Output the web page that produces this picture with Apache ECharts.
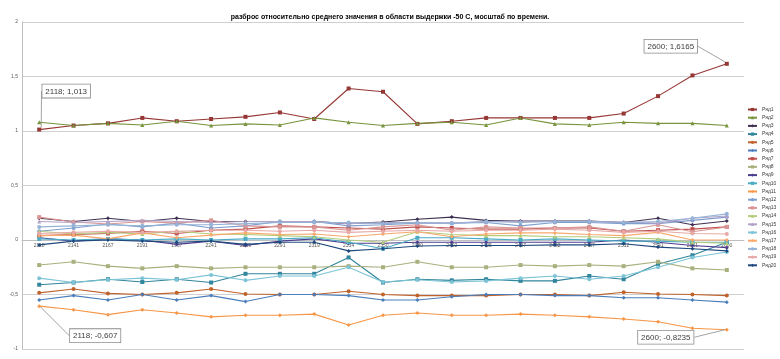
<!DOCTYPE html>
<html>
<head>
<meta charset="utf-8">
<script src="https://cdn.jsdelivr.net/npm/echarts@6/dist/echarts.min.js"></script>
<style>
html,body{margin:0;padding:0;background:#fff;}
#chart{width:780px;height:359px;}
</style>
</head>
<body>
<div id="chart"></div>
<script>
const categories = ['2118','2141','2167','2191','1967','2241','2269','2291','2319','2334','2350','2380','2402','2425','2437','2462','2487','2512','2541','2561','2600'];
const yTicks = [-1, -0.5, 0, 0.5, 1, 1.5, 2];

const r1  = [1.013, 1.05, 1.07, 1.12, 1.09, 1.11, 1.13, 1.17, 1.11, 1.39, 1.36, 1.065, 1.09, 1.12, 1.12, 1.12, 1.12, 1.16, 1.32, 1.51, 1.6165];
const r2  = [1.08, 1.05, 1.07, 1.055, 1.09, 1.05, 1.065, 1.055, 1.12, 1.08, 1.05, 1.07, 1.08, 1.055, 1.12, 1.065, 1.055, 1.08, 1.07, 1.07, 1.05];
const r3  = [0.2, 0.17, 0.2, 0.17, 0.2, 0.17, 0.17, 0.17, 0.17, 0.15, 0.165, 0.19, 0.21, 0.18, 0.175, 0.175, 0.175, 0.16, 0.2, 0.14, 0.175];
const r4  = [-0.41, -0.39, -0.36, -0.385, -0.36, -0.39, -0.31, -0.31, -0.31, -0.16, -0.39, -0.36, -0.37, -0.36, -0.375, -0.375, -0.33, -0.36, -0.22, -0.14, -0.02];
const r5  = [-0.485, -0.45, -0.49, -0.5, -0.485, -0.45, -0.495, -0.5, -0.5, -0.47, -0.5, -0.51, -0.51, -0.51, -0.5, -0.5, -0.51, -0.48, -0.495, -0.5, -0.51];
const r6  = [-0.55, -0.51, -0.55, -0.5, -0.55, -0.51, -0.565, -0.5, -0.5, -0.51, -0.55, -0.55, -0.52, -0.5, -0.5, -0.51, -0.51, -0.53, -0.53, -0.55, -0.57];
const r7  = [0.04, 0.05, 0.06, 0.08, 0.06, 0.09, 0.1, 0.13, 0.12, 0.11, 0.1, 0.12, 0.11, 0.1, 0.1, 0.11, 0.11, 0.08, 0.09, 0.1, 0.12];
const r8  = [-0.23, -0.2, -0.24, -0.26, -0.24, -0.26, -0.25, -0.25, -0.25, -0.24, -0.25, -0.2, -0.25, -0.25, -0.23, -0.24, -0.23, -0.24, -0.2, -0.26, -0.275];
const r9  = [0.02, -0.01, 0.01, 0.0, -0.04, -0.01, -0.05, -0.01, 0.01, -0.03, -0.03, -0.02, -0.02, -0.02, -0.02, -0.02, -0.02, 0.0, -0.02, -0.05, -0.07];
const r10 = [0.01, 0.0, 0.01, 0.0, 0.01, 0.0, 0.01, 0.01, 0.02, -0.02, -0.08, 0.02, 0.02, 0.01, 0.0, 0.01, 0.0, -0.01, -0.01, -0.02, -0.02];
const r11 = [-0.607, -0.64, -0.685, -0.64, -0.67, -0.705, -0.69, -0.69, -0.68, -0.78, -0.69, -0.67, -0.69, -0.69, -0.68, -0.69, -0.705, -0.725, -0.75, -0.81, -0.8235];
const r12 = [0.08, 0.11, 0.147, 0.12, 0.155, 0.11, 0.13, 0.17, 0.17, 0.13, 0.14, 0.155, 0.155, 0.16, 0.13, 0.16, 0.16, 0.15, 0.15, 0.18, 0.21];
const r13 = [0.21, 0.165, 0.147, 0.17, 0.155, 0.18, 0.13, 0.12, 0.12, 0.09, 0.12, 0.14, 0.09, 0.12, 0.11, 0.11, 0.12, 0.08, 0.14, 0.075, 0.12];
const r14 = [0.08, 0.055, 0.07, 0.055, 0.08, 0.055, 0.05, 0.04, 0.03, 0.0, -0.02, 0.075, 0.05, 0.04, 0.04, 0.03, 0.03, 0.02, 0.01, -0.02, -0.03];
const r15 = [0.17, 0.16, 0.17, 0.18, 0.17, 0.16, 0.17, 0.17, 0.17, 0.15, 0.16, 0.16, 0.155, 0.17, 0.175, 0.17, 0.17, 0.165, 0.155, 0.2, 0.22];
const r16 = [-0.35, -0.39, -0.365, -0.35, -0.365, -0.32, -0.37, -0.33, -0.33, -0.25, -0.385, -0.365, -0.385, -0.375, -0.35, -0.33, -0.36, -0.33, -0.25, -0.16, -0.11];
const r17 = [0.04, 0.045, 0.01, 0.065, 0.02, 0.045, 0.065, 0.05, 0.055, 0.03, 0.055, 0.075, 0.03, 0.055, 0.065, 0.065, 0.05, 0.04, 0.07, 0.0, 0.0];
const r18 = [0.12, 0.13, 0.14, 0.13, 0.14, 0.14, 0.15, 0.16, 0.16, 0.16, 0.15, 0.16, 0.15, 0.17, 0.16, 0.17, 0.17, 0.16, 0.17, 0.2, 0.24];
const r19 = [0.06, 0.07, 0.08, 0.07, 0.08, 0.09, 0.09, 0.08, 0.09, 0.07, 0.08, 0.09, 0.08, 0.09, 0.09, 0.1, 0.09, 0.07, 0.08, 0.06, 0.055];
const r20 = [-0.045, -0.01, 0.0, -0.01, -0.02, -0.01, -0.04, -0.02, -0.02, -0.1, -0.08, -0.055, -0.05, -0.05, -0.05, -0.045, -0.045, -0.035, -0.065, -0.08, -0.1];

const seriesNames = ['Ряд1','Ряд2','Ряд3','Ряд4','Ряд5','Ряд6','Ряд7','Ряд8','Ряд9','Ряд10','Ряд11','Ряд12','Ряд13','Ряд14','Ряд15','Ряд16','Ряд17','Ряд18','Ряд19','Ряд20'];
const seriesValues = [r1,r2,r3,r4,r5,r6,r7,r8,r9,r10,r11,r12,r13,r14,r15,r16,r17,r18,r19,r20];

const colors = ['#953735','#77933C','#3F3151','#31859C','#C0622B','#4A7EBB','#C0504D','#A9B07E','#4E3D8F','#4BACC6','#F79646','#7F9FCF','#D99694','#B5CC7A','#B3A2C7','#7CC4D6','#F9A86B','#95B3D7','#E6A9A8','#1F497D'];
const symbols = ['rect','triangle','diamond','rect','circle','diamond','rect','rect','diamond','rect','diamond','circle','rect','triangle','triangle','circle','diamond','circle','circle','diamond'];

// callout label placement (offsets from default label position), keyed by series then point
const callouts = {
  0: {0: {dx: 27, dy: -25, pos: 'top'}, 20: {dx: -56, dy: -4, pos: 'top'}},
  10: {0: {dx: 56, dy: 16, pos: 'bottom'}, 20: {dx: -61, dy: -6, pos: 'bottom'}}
};

const fmt = v => String(v).replace('.', ',');

const series = seriesValues.map((vals, si) => {
  const c = callouts[si] || null;
  return {
    name: seriesNames[si],
    type: 'line',
    data: vals.map((v, i) => {
      if (c && c[i]) {
        return {
          value: v,
          label: {
            show: true,
            position: c[i].pos,
            formatter: p => p.name + '; ' + fmt(p.value),
            fontFamily: 'Liberation Sans',
            fontSize: 8,
            color: '#404040',
            backgroundColor: '#fff',
            borderColor: '#8c8c8c',
            borderWidth: 0.8,
            padding: [3, 3, 2, 3]
          },
          labelLine: {show: true, lineStyle: {color: '#8c8c8c', width: 0.8}}
        };
      }
      return v;
    }),
    symbol: symbols[si],
    symbolSize: 4,
    showAllSymbol: true,
    itemStyle: {color: colors[si]},
    lineStyle: {color: colors[si], width: 1.1},
    emphasis: {disabled: true},
    z: 3,
    labelLine: c ? {show: true, lineStyle: {color: '#8c8c8c', width: 0.8}} : undefined,
    labelLayout: c ? function (params) {
      const o = c[params.dataIndex];
      return o ? {dx: o.dx, dy: o.dy} : {};
    } : undefined
  };
});

const gridTop = 22, gridBottom = 10, chartH = 359;
const plotH = chartH - gridTop - gridBottom;
const yMin = yTicks[0], yMax = yTicks[yTicks.length - 1];
// place the category axis where the value axis crosses zero
const xAxisOffset = -plotH * (0 - yMin) / (yMax - yMin);

const chart = echarts.init(document.getElementById('chart'), null, {renderer: 'canvas'});
chart.setOption({
  animation: false,
  backgroundColor: '#ffffff',
  color: colors,
  title: {
    text: 'разброс относительно среднего значения в области выдержки -50 С, мосштаб по времени.',
    left: 'center',
    top: 9,
    textStyle: {fontFamily: 'Liberation Sans', fontSize: 7, fontWeight: 'bold', color: '#000'}
  },
  grid: {left: 22, right: 36, top: gridTop, bottom: gridBottom, containLabel: false, outerBoundsMode: 'none'},
  legend: {
    orient: 'vertical',
    left: 742,
    top: 102,
    itemWidth: 9,
    itemHeight: 4,
    itemGap: 3.2,
    textStyle: {fontFamily: 'Liberation Sans', fontSize: 5, color: '#404040'},
    data: seriesNames
  },
  xAxis: {
    type: 'category',
    data: categories,
    boundaryGap: true,
    position: 'bottom',
    offset: xAxisOffset,
    axisLine: {onZero: false, lineStyle: {color: '#bfbfbf', width: 1}},
    axisTick: {show: false},
    axisLabel: {interval: 0, fontFamily: 'Liberation Sans', fontSize: 5, color: '#595959', margin: 3},
    splitLine: {show: false},
    z: 2
  },
  yAxis: {
    type: 'value',
    min: yMin,
    max: yMax,
    interval: 0.5,
    name: 'Название оси',
    nameLocation: 'middle',
    nameGap: 17,
    nameRotate: 90,
    nameTextStyle: {fontFamily: 'Liberation Sans', fontSize: 5, fontWeight: 'bold', color: '#404040'},
    axisLine: {show: true, lineStyle: {color: '#bfbfbf'}},
    axisTick: {show: false},
    axisLabel: {fontFamily: 'Liberation Sans', fontSize: 5, color: '#595959', margin: 4, formatter: v => fmt(v)},
    splitLine: {show: true, lineStyle: {color: '#d0d0d0', width: 1}}
  },
  series: series
});
</script>
</body>
</html>
